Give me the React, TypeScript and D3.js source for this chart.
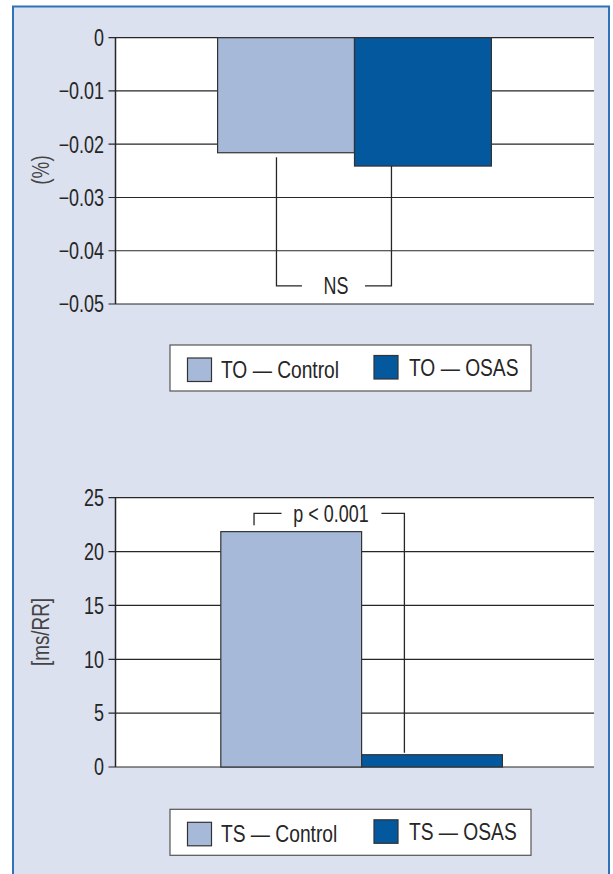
import React from "react";
import * as d3 from "d3";

const topSeries = ["TO — Control", "TO — OSAS"];
const topValues = [-0.0216, -0.0241];
const topTicks = [0, -0.01, -0.02, -0.03, -0.04, -0.05];
const topTickLabels = ["0", "−0.01", "−0.02", "−0.03", "−0.04", "−0.05"];
const topAxisLabel = "(%)";
const topNote = "NS";
const topNoteLevel = -0.0466;

const botSeries = ["TS — Control", "TS — OSAS"];
const botValues = [21.85, 1.14];
const botTicks = [0, 5, 10, 15, 20, 25];
const botTickLabels = ["0", "5", "10", "15", "20", "25"];
const botAxisLabel = "[ms/RR]";
const botNote = "p < 0.001";
const botNoteLevel = 23.55;

const COLORS = ["#a6b9d8", "#04589e"];
const FONT = "'Liberation Sans', Arial, Helvetica, sans-serif";
const INK = "#262626";

function T({
  x,
  y,
  size,
  sx = 0.78,
  anchor = "start",
  dy = "0",
  fill = INK,
  rotate = 0,
  children,
}: {
  x: number;
  y: number;
  size: number;
  sx?: number;
  anchor?: string;
  dy?: string;
  fill?: string;
  rotate?: number;
  children: React.ReactNode;
}) {
  return (
    <text
      transform={`translate(${x},${y}) rotate(${rotate}) scale(${sx},1)`}
      textAnchor={anchor}
      dy={dy}
      fontSize={size}
      fontFamily={FONT}
      fill={fill}
    >
      {children}
    </text>
  );
}

type ChartProps = {
  series: string[];
  values: number[];
  ticks: number[];
  tickLabels: string[];
  domain: [number, number];
  yRange: [number, number];
  bandRange: [number, number];
  axisLabel: string;
  labelY: number;
};

function Chart(p: ChartProps) {
  const x0 = 115.5;
  const x1 = 594;
  const y = d3.scaleLinear().domain(p.domain).range(p.yRange);
  const xb = d3.scaleBand<string>().domain(p.series).range(p.bandRange).padding(0);
  const base = y(0);
  return (
    <g>
      <rect x={x0} y={p.yRange[1]} width={x1 - x0} height={p.yRange[0] - p.yRange[1]} fill="#ffffff" />
      {p.ticks.map((t, i) => (
        <g key={i}>
          <line x1={x0 - 7} x2={x1} y1={y(t)} y2={y(t)} stroke={INK} strokeWidth={1.2} />
          <T x={104} y={y(t)} dy="0.36em" anchor="end" size={23}>
            {p.tickLabels[i]}
          </T>
        </g>
      ))}
      <line x1={x0} x2={x0} y1={p.yRange[1]} y2={p.yRange[0]} stroke={INK} strokeWidth={1.5} />
      {p.values.map((v, i) => (
        <rect
          key={i}
          x={xb(p.series[i])!}
          width={xb.bandwidth()}
          y={Math.min(y(v), base)}
          height={Math.abs(y(v) - base)}
          fill={COLORS[i]}
          stroke="#333"
          strokeWidth={1.2}
        />
      ))}
      <T x={41} y={p.labelY} rotate={-90} anchor="middle" dy="0.35em" size={23} sx={0.82} fill="#444">
        {p.axisLabel}
      </T>
    </g>
  );
}

function Legend({ series, top }: { series: string[]; top: number }) {
  const sw = [
    { x: 187.5, dy: 13, tx: 221, ty: 33 },
    { x: 374, dy: 10.5, tx: 409, ty: 31 },
  ];
  return (
    <g>
      <rect x={170} y={top} width={361} height={46} fill="#ffffff" stroke="#555" strokeWidth={1.2} />
      {series.map((s, i) => (
        <g key={s}>
          <rect x={sw[i].x} y={top + sw[i].dy} width={24} height={23.5} fill={COLORS[i]} stroke="#333" strokeWidth={1.2} />
          <T x={sw[i].tx} y={top + sw[i].ty} size={24} sx={0.8}>
            {s}
          </T>
        </g>
      ))}
    </g>
  );
}

export default function App() {
  const yTop = d3.scaleLinear().domain([-0.05, 0]).range([304, 37.7]);
  const yBot = d3.scaleLinear().domain([0, 25]).range([767, 497.7]);
  const bTop = d3.scaleBand<string>().domain(topSeries).range([217.6, 491.4]);
  const bBot = d3.scaleBand<string>().domain(botSeries).range([220.8, 502.4]);

  const nsL = bTop(topSeries[0])! + bTop.bandwidth() * 0.43;
  const nsR = bTop(topSeries[1])! + bTop.bandwidth() * 0.27;
  const nsY = yTop(topNoteLevel);
  const nsMid = 336;

  const pL = bBot(botSeries[0])! + bBot.bandwidth() * 0.236;
  const pR = bBot(botSeries[1])! + bBot.bandwidth() * 0.304;
  const pY = yBot(botNoteLevel);
  const pMid = 331;

  return (
    <svg width={613} height={874} style={{ position: "absolute", left: 0, top: 0 }}>
      <rect x={0} y={0} width={613} height={874} fill="#ffffff" />
      <rect x={13} y={6.5} width={596} height={900} fill="#dbe1ef" stroke="#2f72b8" strokeWidth={2} />
      <Chart
        series={topSeries}
        values={topValues}
        ticks={topTicks}
        tickLabels={topTickLabels}
        domain={[-0.05, 0]}
        yRange={[304, 37.7]}
        bandRange={[217.6, 491.4]}
        axisLabel={topAxisLabel}
        labelY={170}
      />
      <g stroke={INK} strokeWidth={1.3} fill="none">
        <polyline points={`${nsL},${yTop(topValues[0]) + 4.5} ${nsL},${nsY} ${nsL + 25.5},${nsY}`} />
        <polyline points={`${nsR - 26.5},${nsY} ${nsR},${nsY} ${nsR},${yTop(topValues[1])}`} />
      </g>
      <T x={nsMid} y={nsY} dy="0.36em" anchor="middle" size={23}>
        {topNote}
      </T>
      <Legend series={topSeries} top={345} />

      <Chart
        series={botSeries}
        values={botValues}
        ticks={botTicks}
        tickLabels={botTickLabels}
        domain={[0, 25]}
        yRange={[767, 497.7]}
        bandRange={[220.8, 502.4]}
        axisLabel={botAxisLabel}
        labelY={632}
      />
      <g stroke={INK} strokeWidth={1.3} fill="none">
        <polyline points={`${pL},${yBot(botValues[0]) - 6.5} ${pL},${pY} ${pL + 27.5},${pY}`} />
        <polyline points={`${pR - 23},${pY} ${pR},${pY} ${pR},${yBot(botValues[1]) - 2}`} />
      </g>
      <T x={pMid} y={pY} dy="0.36em" anchor="middle" size={23}>
        {botNote}
      </T>
      <Legend series={botSeries} top={809.3} />
    </svg>
  );
}
